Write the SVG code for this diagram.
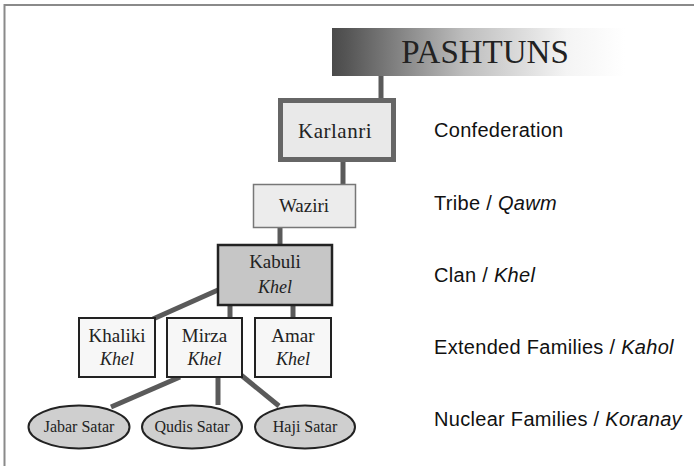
<svg xmlns="http://www.w3.org/2000/svg" width="695" height="466" viewBox="0 0 695 466">
  <defs>
    <linearGradient id="bannerFill" x1="0" y1="0" x2="1" y2="0">
      <stop offset="0" stop-color="#4a4a4a"/>
      <stop offset="0.05" stop-color="#555555"/>
      <stop offset="0.45" stop-color="#bdbdbd"/>
      <stop offset="0.8" stop-color="#f4f4f4"/>
      <stop offset="1" stop-color="#ffffff"/>
    </linearGradient>
    <style>
      .frame { stroke: #8a8a8a; stroke-width: 2; fill: none; }
      .link { stroke: #5a5a5a; stroke-width: 5; fill: none; }
      .node-text { font-family: "Liberation Serif", "DejaVu Serif", serif; fill: #222; text-anchor: middle; }
      .khel { font-style: italic; font-size: 18px; }
      .level { font-family: "Liberation Sans", Arial, sans-serif; font-size: 20px; letter-spacing: 0.3px; fill: #111; }
      .level .it { font-style: italic; }
      .family { fill: #f7f7f7; stroke: #222; stroke-width: 2; }
      .household { fill: #cfcfcf; stroke: #222; stroke-width: 2; }
    </style>
  </defs>

  <rect width="695" height="466" fill="#ffffff"/>

  <!-- page frame: top and left rules -->
  <path class="frame" d="M4.5 466 V5 H694"/>

  <!-- connectors -->
  <g id="connectors">
    <line class="link" x1="381" y1="76" x2="381" y2="100"/>
    <line class="link" x1="343" y1="162" x2="343" y2="185"/>
    <line class="link" x1="280" y1="228" x2="280" y2="245"/>
    <line class="link" x1="218" y1="290" x2="153" y2="319"/>
    <line class="link" x1="230" y1="305" x2="230" y2="318"/>
    <line class="link" x1="293" y1="305" x2="293" y2="318"/>
    <line class="link" x1="180" y1="377" x2="111" y2="407"/>
    <line class="link" x1="218" y1="377" x2="218" y2="405"/>
    <line class="link" x1="241" y1="375" x2="279" y2="406"/>
  </g>

  <!-- title banner -->
  <g id="pashtuns">
    <rect x="332" y="28" width="293" height="48" fill="url(#bannerFill)"/>
    <text class="node-text" x="485" y="63" font-size="33">PASHTUNS</text>
  </g>

  <!-- confederation -->
  <g id="karlanri">
    <rect x="280.5" y="100.5" width="113" height="59" fill="#e9e9e9" stroke="#666" stroke-width="5"/>
    <text class="node-text" x="335" y="138" font-size="21" letter-spacing="0.5">Karlanri</text>
  </g>

  <!-- tribe -->
  <g id="waziri">
    <rect x="253.5" y="184.5" width="102" height="43" fill="#ececec" stroke="#777" stroke-width="1.5"/>
    <text class="node-text" x="304" y="212" font-size="19">Waziri</text>
  </g>

  <!-- clan -->
  <g id="kabuli">
    <rect x="218" y="245" width="114" height="60" fill="#c6c6c6" stroke="#222" stroke-width="2.5"/>
    <text class="node-text" x="275" y="268" font-size="19">Kabuli</text>
    <text class="node-text khel" x="275" y="293">Khel</text>
  </g>

  <!-- extended families -->
  <g id="khaliki">
    <rect class="family" x="79" y="318" width="76" height="59"/>
    <text class="node-text" x="117" y="342" font-size="19">Khaliki</text>
    <text class="node-text khel" x="117" y="365">Khel</text>
  </g>
  <g id="mirza">
    <rect class="family" x="167" y="318" width="75" height="59"/>
    <text class="node-text" x="204.5" y="342" font-size="19">Mirza</text>
    <text class="node-text khel" x="204.5" y="365">Khel</text>
  </g>
  <g id="amar">
    <rect class="family" x="255" y="318" width="76" height="59"/>
    <text class="node-text" x="293" y="342" font-size="19">Amar</text>
    <text class="node-text khel" x="293" y="365">Khel</text>
  </g>

  <!-- nuclear families -->
  <g id="jabar-satar">
    <ellipse class="household" cx="79" cy="427" rx="50.5" ry="21.5"/>
    <text class="node-text" x="79" y="432" font-size="16">Jabar Satar</text>
  </g>
  <g id="qudis-satar">
    <ellipse class="household" cx="192" cy="427" rx="50" ry="21.5"/>
    <text class="node-text" x="192" y="432" font-size="16">Qudis Satar</text>
  </g>
  <g id="haji-satar">
    <ellipse class="household" cx="305" cy="427" rx="50" ry="21.5"/>
    <text class="node-text" x="305" y="432" font-size="16">Haji Satar</text>
  </g>

  <!-- level captions -->
  <g id="levels">
    <text class="level" x="434" y="137">Confederation</text>
    <text class="level" x="434" y="210">Tribe / <tspan class="it">Qawm</tspan></text>
    <text class="level" x="434" y="282">Clan / <tspan class="it">Khel</tspan></text>
    <text class="level" x="434" y="354">Extended Families / <tspan class="it">Kahol</tspan></text>
    <text class="level" x="434" y="426">Nuclear Families / <tspan class="it">Koranay</tspan></text>
  </g>
</svg>
